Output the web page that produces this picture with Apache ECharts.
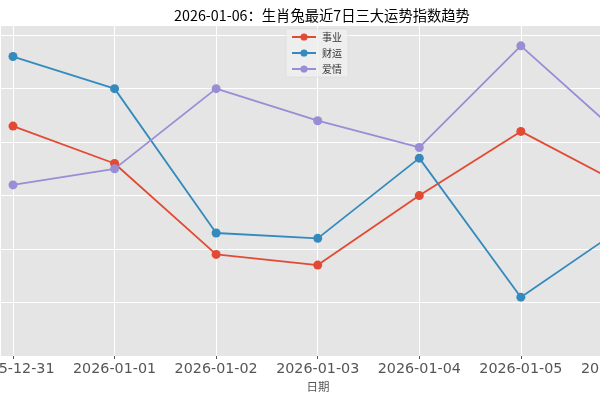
<!DOCTYPE html>
<html><head><meta charset="utf-8">
<script src="https://cdn.jsdelivr.net/npm/echarts@6/dist/echarts.min.js"></script>
<style>html,body{margin:0;padding:0;background:#fff}#c{width:600px;height:400px}</style>
</head><body><div id="c"></div>
<script>
const titleText = '2026-01-06：生肖兔最近7日三大运势指数趋势';
const dates = ['2025-12-31','2026-01-01','2026-01-02','2026-01-03','2026-01-04','2026-01-05','2026-01-06'];
const career = [73, 66, 49, 47, 60, 72, 62];
const wealth = [86, 80, 53, 52, 67, 41, 54];
const love = [62, 65, 80, 74, 69, 88, 71];
const seriesNames = ['事业', '财运', '爱情'];
const colors = ['#E24A33', '#348ABD', '#988ED5'];

const toPts = arr => arr.map((v, i) => [i, v]);
const font = '"Noto Sans CJK SC","DejaVu Sans",sans-serif';

const chart = echarts.init(document.getElementById('c'), null, {renderer: 'canvas'});
chart.setOption({
  animation: false,
  backgroundColor: '#fff',
  title: {
    text: titleText, left: 317, textAlign: 'center', top: 3,
    textStyle: {fontFamily: font, fontSize: 14.3, fontWeight: 'normal', color: '#000'}
  },
  legend: {
    orient: 'vertical', left: 286, top: 29,
    data: seriesNames,
    itemWidth: 24, itemHeight: 9, itemGap: 6,
    padding: [3, 6, 3, 5],
    backgroundColor: 'rgba(240,240,240,0.8)',
    borderColor: 'rgba(204,204,204,0.6)', borderWidth: 0.5, borderRadius: 2,
    textStyle: {fontFamily: font, fontSize: 10, color: '#333', padding: [0,0,0,1]}
  },
  grid: {left: 0, right: -60, top: 25, bottom: 44, backgroundColor: '#E5E5E5', show: true, borderWidth: 0,
         containLabel: false, outerBoundsMode: 'none'},
  xAxis: {
    type: 'value', min: -0.128, max: 6.37,
    name: '日期', nameLocation: 'middle', nameGap: 25,
    nameTextStyle: {fontFamily: font, fontSize: 11.5, color: '#555', padding: [0, 24, 0, 0]},
    axisLine: {show: false},
    axisTick: {show: true, length: 3, lineStyle: {color: '#555'}},
    axisLabel: {
      fontFamily: '"DejaVu Sans",sans-serif', fontSize: 14.3, color: '#555', margin: 6,
      showMinLabel: false, showMaxLabel: false, hideOverlap: false,
      formatter: v => (Number.isInteger(v) && dates[v]) ? dates[v] : ''
    },
    splitLine: {show: true, lineStyle: {color: '#fff', width: 1}}
  },
  yAxis: {
    type: 'value', min: 30, max: 91.9, interval: 10,
    axisLine: {show: false}, axisTick: {show: false},
    axisLabel: {show: false},
    splitLine: {show: true, lineStyle: {color: '#fff', width: 1}}
  },
  series: [
    {name: seriesNames[0], data: toPts(career)},
    {name: seriesNames[1], data: toPts(wealth)},
    {name: seriesNames[2], data: toPts(love)}
  ].map((s, k) => Object.assign(s, {
    type: 'line', symbol: 'circle', symbolSize: 9, showSymbol: true,
    itemStyle: {color: colors[k]},
    lineStyle: {color: colors[k], width: 1.8}
  }))
});
</script></body></html>
